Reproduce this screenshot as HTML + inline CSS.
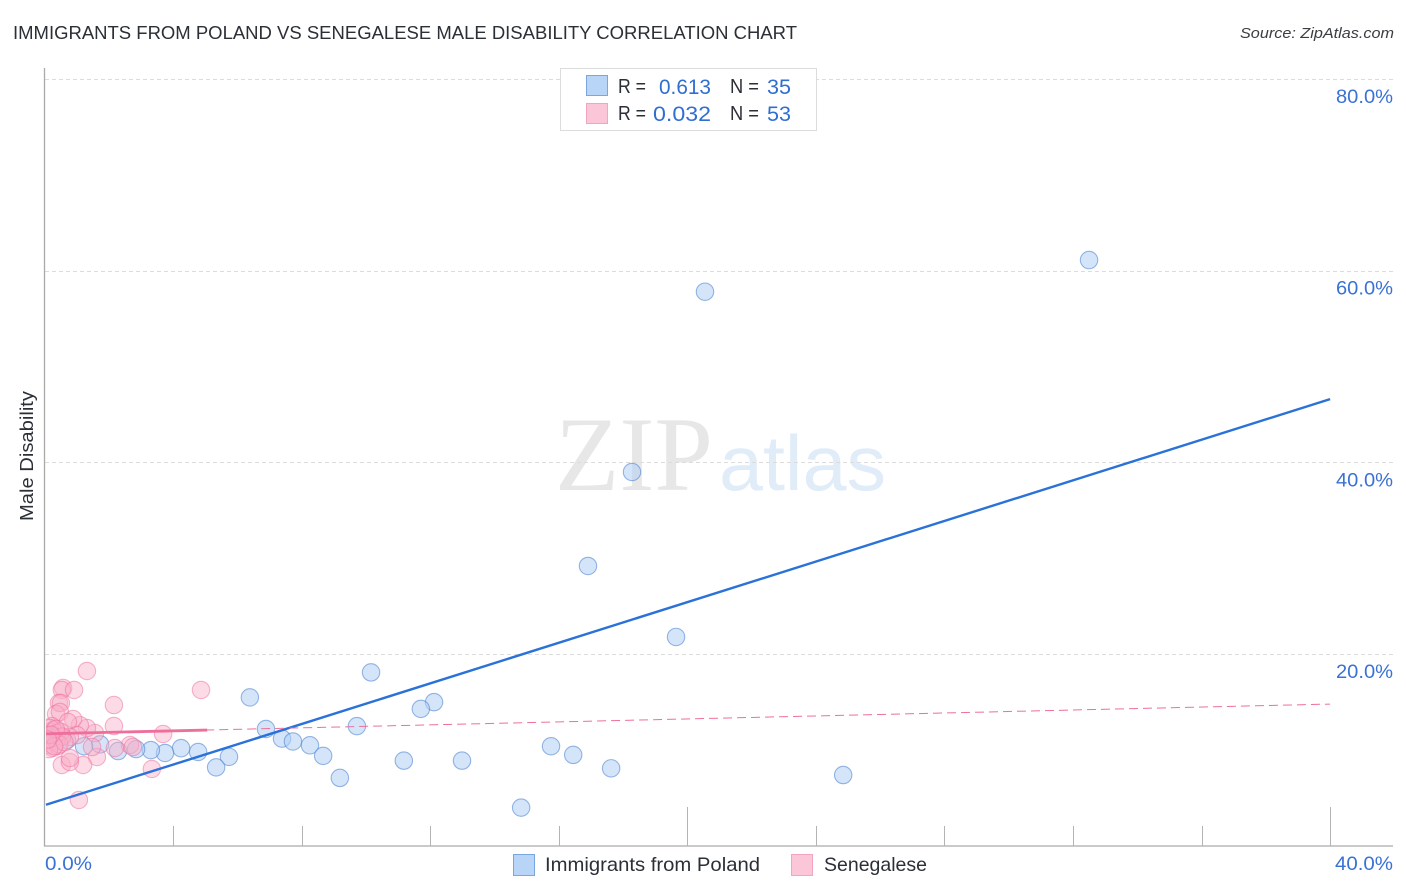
<!DOCTYPE html>
<html lang="en">
<head>
<meta charset="utf-8">
<title>Immigrants from Poland vs Senegalese Male Disability Correlation Chart</title>
<style>
html,body{margin:0;padding:0;background:#fff;}
svg{display:block;font-family:"Liberation Sans",sans-serif;}
</style>
</head>
<body>
<svg id="chart" xmlns="http://www.w3.org/2000/svg" width="1406" height="892" viewBox="0 0 1406 892">
  <defs>
    <clipPath id="plot-clip"><rect x="46" y="60" width="1350" height="786"/></clipPath>
  </defs>
  <text x="555" y="490" font-family="'Liberation Serif',serif" font-size="106" fill="#e7e7e7" textLength="158" lengthAdjust="spacingAndGlyphs">ZIP</text>
  <text x="719" y="490" font-size="78" fill="#e1ecf9" textLength="167" lengthAdjust="spacingAndGlyphs">atlas</text>
  <g id="grid"></g>
  <g id="axes"></g>
  <g id="marks" clip-path="url(#plot-clip)"></g>
  <g id="trends"></g>
  <text x="13" y="39" font-size="18.5" fill="#2b2f36" textLength="784" lengthAdjust="spacingAndGlyphs">IMMIGRANTS FROM POLAND VS SENEGALESE MALE DISABILITY CORRELATION CHART</text>
  <text x="1394" y="38" font-size="15" font-style="italic" fill="#3a3d42" text-anchor="end" textLength="154" lengthAdjust="spacingAndGlyphs">Source: ZipAtlas.com</text>
  <text transform="translate(33,521) rotate(-90)" font-size="18.5" fill="#2b2f36" textLength="130" lengthAdjust="spacingAndGlyphs">Male Disability</text>

  <g>
    <rect x="560.5" y="68.5" width="256" height="62" fill="#fff" stroke="#dcdcdc"/>
    <rect x="586.5" y="75.5" width="21" height="20" fill="#b8d4f7" stroke="#7ba7e0"/>
    <rect x="586.5" y="103.5" width="21" height="20" fill="#fbc6d7" stroke="#f3a5c0"/>
    <text x="618" y="93" font-size="20" fill="#2b2f36" textLength="28" lengthAdjust="spacingAndGlyphs">R =</text>
    <text x="711" y="94" font-size="21" fill="#2f6fd0" text-anchor="end" textLength="52" lengthAdjust="spacingAndGlyphs">0.613</text>
    <text x="730" y="93" font-size="20" fill="#2b2f36" textLength="29" lengthAdjust="spacingAndGlyphs">N =</text>
    <text x="767" y="94" font-size="21" fill="#2f6fd0" textLength="24" lengthAdjust="spacingAndGlyphs">35</text>
    <text x="618" y="120" font-size="20" fill="#2b2f36" textLength="28" lengthAdjust="spacingAndGlyphs">R =</text>
    <text x="711" y="121" font-size="21" fill="#2f6fd0" text-anchor="end" textLength="58" lengthAdjust="spacingAndGlyphs">0.032</text>
    <text x="730" y="120" font-size="20" fill="#2b2f36" textLength="29" lengthAdjust="spacingAndGlyphs">N =</text>
    <text x="767" y="121" font-size="21" fill="#2f6fd0" textLength="24" lengthAdjust="spacingAndGlyphs">53</text>
  </g>

  <g>
    <rect x="513.5" y="854.5" width="21" height="21" fill="#b8d4f7" stroke="#7ba7e0"/>
    <text x="545" y="871" font-size="19.5" fill="#2b2f36" textLength="215" lengthAdjust="spacingAndGlyphs">Immigrants from Poland</text>
    <rect x="791.5" y="854.5" width="21" height="21" fill="#fbc6d7" stroke="#f3a5c0"/>
    <text x="824" y="871" font-size="19.5" fill="#2b2f36" textLength="103" lengthAdjust="spacingAndGlyphs">Senegalese</text>
  </g>
</svg>
<script>
const yTickValues = [20, 40, 60, 80];
const yTickLabels = ["20.0%", "40.0%", "60.0%", "80.0%"];
const xTickValues = [0, 4, 8, 12, 16, 20, 24, 28, 32, 36, 40];
const xMajorTicks = [20, 40];
const xEndValues = [0, 40];
const xEndLabels = ["0.0%", "40.0%"];

const polandX = [32.5,20.55,18.28,16.91,19.65,6.39,10.16,12.12,11.71,9.72,6.89,7.39,7.73,8.26,8.67,9.19,11.18,12.99,14.83,15.76,16.45,17.63,24.85,5.74,5.34,4.78,4.25,3.75,3.31,2.85,2.29,1.73,1.23,0.7,0.23];
const polandY = [61.1,57.8,39.0,29.2,21.8,15.5,18.1,15.0,14.3,12.5,12.2,11.2,10.9,10.5,9.4,7.1,8.9,8.9,4.0,10.4,9.5,8.1,7.4,9.3,8.2,9.8,10.2,9.7,10.0,10.1,9.9,10.6,10.4,11.05,11.6];

const senegaleseX = [1.32,4.87,0.58,0.54,0.92,2.16,0.45,0.51,0.36,0.48,2.16,3.69,3.34,1.07,2.66,2.75,2.19,1.63,1.2,0.54,0.79,0.79,1.57,1.32,1.1,0.89,0.73,1.01,0.79,1.48,0.23,0.28,0.17,0.26,0.08,0.2,0.36,0.11,0.26,0.42,0.17,0.39,0.3,0.5,0.55,0.46,0.05,0.14,0.62,0.35,0.3,0.2,0.1];
const senegaleseY = [18.25,16.27,16.48,16.27,16.27,14.7,14.91,14.91,13.76,13.97,12.51,11.68,8.03,4.8,10.53,10.32,10.22,9.28,8.45,8.45,8.76,9.18,11.78,12.3,12.6,13.24,12.93,11.57,11.37,10.32,12.5,12.1,11.89,11.57,11.26,11.05,10.84,10.53,10.22,10.43,12.3,11.78,11.26,11.9,11.4,10.6,11.6,10.1,10.84,12.2,10.4,11.6,11.1];

const polandTrendX = [0, 40];
const polandTrendY = [4.3, 46.6];
const senegaleseSolidX = [0, 5];
const senegaleseSolidY = [11.7, 12.09];
const senegaleseDashX = [5, 40];
const senegaleseDashY = [12.09, 14.8];

const NS = 'http://www.w3.org/2000/svg';
const X0 = 44.5, XPER = 32.14, Y0 = 846, YPER = 9.59;
function xScale(v){ return X0 + v * XPER; }
function yScale(v){ return Y0 - v * YPER; }
function make(tag, attrs, parent){
  const el = document.createElementNS(NS, tag);
  Object.keys(attrs).forEach(function(k){ el.setAttribute(k, attrs[k]); });
  parent.appendChild(el);
  return el;
}
const grid = document.getElementById('grid');
const axes = document.getElementById('axes');
const marks = document.getElementById('marks');
const trends = document.getElementById('trends');

yTickValues.forEach(function(v, i){
  const y = Math.round(yScale(v)) + 0.5;
  const g = make('line', {x1: 45, x2: 1393, y1: y, y2: y, stroke: '#dcdcdc', 'stroke-width': 1, 'stroke-dasharray': '4 3'}, grid);
  
  
  const t = make('text', {x: 1393, y: yScale(v) + 24, 'font-size': 19.5, fill: '#3a72d4', 'text-anchor': 'end', textLength: 57, lengthAdjust: 'spacingAndGlyphs'}, axes);
  t.textContent = yTickLabels[i];
  
  
});

const yAxis = make('line', {x1: 44.5, x2: 44.5, y1: 68, y2: 846.5, stroke: '#aaaaaa', 'stroke-width': 1.3}, axes);


const xAxis = make('line', {x1: 44, x2: 1393, y1: 846, y2: 846, stroke: '#aaaaaa', 'stroke-width': 1.3}, axes);



xTickValues.forEach(function(v){
  if (v === 0) return;
  const x = Math.round(xScale(v)) + 0.5;
  const top = xMajorTicks.indexOf(v) >= 0 ? 807 : 826;
  const t = make('line', {x1: x, x2: x, y1: top, y2: 846, stroke: '#b4b4b4', 'stroke-width': 1}, axes);
  
  
});

xEndValues.forEach(function(v, i){
  const first = i === 0;
  const t = make('text', {x: first ? xScale(v) + 0.5 : 1393, y: 870, 'font-size': 19.5, fill: '#3a72d4', 'text-anchor': first ? 'start' : 'end', textLength: first ? 47 : 58, lengthAdjust: 'spacingAndGlyphs'}, axes);
  t.textContent = xEndLabels[i];
  
  
});

polandX.forEach(function(v, i){
  const c = make('circle', {cx: xScale(v), cy: yScale(polandY[i]), r: 8.7, fill: 'rgba(176,208,245,0.55)', stroke: 'rgba(70,125,205,0.55)', 'stroke-width': 1.1}, marks);
  
  
});
senegaleseX.forEach(function(v, i){
  const c = make('circle', {cx: xScale(v), cy: yScale(senegaleseY[i]), r: 8.7, fill: 'rgba(248,175,200,0.45)', stroke: 'rgba(236,110,155,0.5)', 'stroke-width': 1.1}, marks);
  
  
});

const tBlue = make('line', {x1: xScale(polandTrendX[0]) + 1.5, y1: yScale(polandTrendY[0]), x2: xScale(polandTrendX[1]), y2: yScale(polandTrendY[1]), stroke: '#2a72d8', 'stroke-width': 2.4}, trends);


const tPinkDash = make('line', {x1: xScale(senegaleseDashX[0]), y1: yScale(senegaleseDashY[0]), x2: xScale(senegaleseDashX[1]), y2: yScale(senegaleseDashY[1]), stroke: '#ee6f9c', 'stroke-width': 1, 'stroke-dasharray': '9 5'}, trends);


const tPink = make('line', {x1: xScale(senegaleseSolidX[0]) + 1.5, y1: yScale(senegaleseSolidY[0]), x2: xScale(senegaleseSolidX[1]) + 2, y2: yScale(senegaleseSolidY[1]), stroke: '#ee6f9c', 'stroke-width': 2.8}, trends);


</script>
</body>
</html>
